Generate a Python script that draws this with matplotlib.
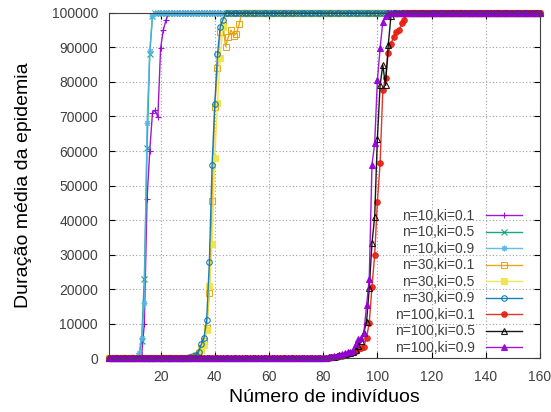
import numpy as np
import matplotlib
matplotlib.use('Agg')
import matplotlib.pyplot as plt

plt.rcParams['font.family'] = ['Liberation Sans', 'DejaVu Sans']

# eixo x: numero de individuos 1..160
x = np.arange(1, 161)
TOPO = 100000

# cada serie: primeiro x da subida e valores lidos ate chegar ao topo
n10_k01_ini = 13
n10_k01 = [1000, 10000, 46000, 60000, 71000, 71800, 69900, 89700, 95000, 97900]
n10_k05_ini = 12
n10_k05 = [800, 5000, 23000, 61000, 88000, 99000]
n10_k09_ini = 12
n10_k09 = [1500, 6000, 16000, 68000, 89000, 99000]

n30_k01_ini = 30
n30_k01 = [200, 300, 500, 900, 1500, 3000, 5000, 8700, 18800, 45500, 72800, 84000,
           94500, 96500, 90200, 93000, 95000, 93400, 94000, 96700]
n30_k05_ini = 30
n30_k05 = [200, 300, 500, 900, 1500, 2500, 4000, 8200, 21000, 33000, 58000, 74000,
           87000, 96000]
n30_k09_ini = 30
n30_k09 = [200, 300, 600, 1000, 1900, 4100, 6000, 11100, 28000, 56000, 73500, 88000,
           96000, 98000]

n100_k01_ini = 80
n100_k01 = [100, 150, 200, 300, 400, 500, 600, 800, 1000, 1200, 1500, 1800, 2200, 2800,
            3000, 3400, 6000, 10300, 20700, 29900, 45300, 56400, 77600, 81000, 88300,
            91100, 93000, 94500, 95000, 96900, 98000]
n100_k05_ini = 80
n100_k05 = [100, 200, 300, 400, 500, 700, 900, 1100, 1300, 1500, 1700, 2000, 2500, 3500,
            5000, 7500, 10600, 20300, 33300, 41000, 63600, 79000, 84900, 79000, 90600,
            99000]
n100_k09_ini = 80
n100_k09 = [100, 200, 300, 400, 600, 800, 1000, 1200, 1500, 1800, 2000, 2400, 4300, 5500,
            6000, 7400, 15400, 23100, 55900, 62200, 80500, 89700, 97400, 99000]

rotulos = ['n=10,ki=0.1', 'n=10,ki=0.5', 'n=10,ki=0.9',
           'n=30,ki=0.1', 'n=30,ki=0.5', 'n=30,ki=0.9',
           'n=100,ki=0.1', 'n=100,ki=0.5', 'n=100,ki=0.9']


def monta_serie(ini, valores):
    y = np.full(len(x), float(TOPO))
    y[:ini - 1] = 0
    y[ini - 1:ini - 1 + len(valores)] = valores
    return y


series = [(n10_k01_ini, n10_k01), (n10_k05_ini, n10_k05), (n10_k09_ini, n10_k09),
          (n30_k01_ini, n30_k01), (n30_k05_ini, n30_k05), (n30_k09_ini, n30_k09),
          (n100_k01_ini, n100_k01), (n100_k05_ini, n100_k05), (n100_k09_ini, n100_k09)]

# estilos tipo gnuplot
cores = ['#9400D3', '#009E73', '#56B4E9', '#E69F00', '#F0E442',
         '#0072B2', '#E51E10', '#000000', '#9400D3']
marcadores = ['+', 'x', (8, 2, 0), 's', 's', 'o', 'o', '^', '^']
preenchido = [True, True, True, False, True, False, True, False, True]

fig = plt.figure(figsize=(5.51, 4.12), dpi=100)
ax = fig.add_axes([0.198, 0.130, 0.782, 0.839])

for i, (ini, vals) in enumerate(series):
    y = monta_serie(ini, vals)
    ax.plot(x, y, color=cores[i], linewidth=1.0, alpha=0.9, marker=marcadores[i],
            markersize=4, markeredgewidth=0.8,
            markerfacecolor=cores[i] if preenchido[i] else 'none',
            label=rotulos[i], clip_on=False)

ax.set_xlim(1, 160)
ax.set_ylim(0, 100000)
ax.set_xticks(range(20, 161, 20))
ax.set_yticks(range(0, 100001, 10000))
ax.tick_params(direction='in', length=4, top=True, right=True,
               labelsize=10, labelcolor='#404040', pad=8)
ax.grid(True, color='#a0a0a0', linestyle=(0, (1, 2)), linewidth=0.8)
for s in ax.spines.values():
    s.set_color('#404040')

ax.set_xlabel('Número de indivíduos', fontsize=14, labelpad=4)
ax.set_ylabel('Duração média da epidemia', fontsize=14, labelpad=14)

leg = ax.legend(loc='lower right', bbox_to_anchor=(0.958, 0.01), frameon=False,
                markerfirst=False, fontsize=10, handlelength=2.6, handletextpad=0.8,
                labelspacing=0.18, borderaxespad=0, borderpad=0)
for t in leg.get_texts():
    t.set_color('#404040')

plt.savefig('out.png', dpi=100)
